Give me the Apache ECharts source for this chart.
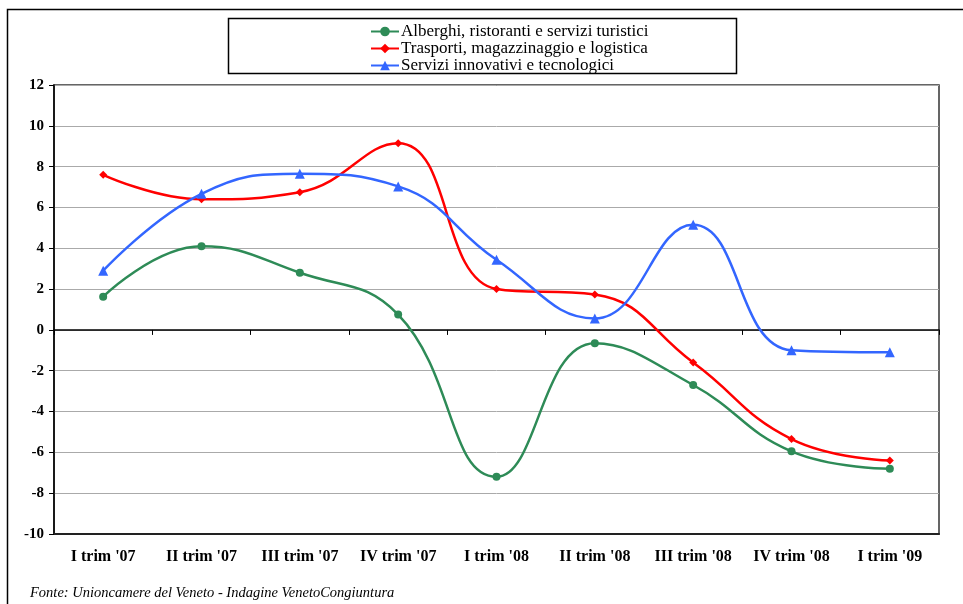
<!DOCTYPE html>
<html>
<head>
<meta charset="utf-8">
<script src="https://cdn.jsdelivr.net/npm/echarts@6/dist/echarts.min.js"></script>
<style>html,body{margin:0;padding:0;background:#fff}#c{width:963px;height:604px}</style>
</head>
<body>
<div id="c"></div>
<script>
const categories = ["I trim '07","II trim '07","III trim '07","IV trim '07","I trim '08","II trim '08","III trim '08","IV trim '08","I trim '09"];
const alberghi = [1.63, 4.1, 2.8, 0.75, -7.2, -0.65, -2.7, -5.95, -6.8];
const trasporti = [7.6, 6.4, 6.75, 9.15, 2.0, 1.73, -1.6, -5.35, -6.4];
const servizi = [2.9, 6.67, 7.65, 7.03, 3.44, 0.56, 5.15, -1.0, -1.1];
const seriesNames = ["Alberghi, ristoranti e servizi turistici","Trasporti, magazzinaggio e logistica","Servizi innovativi e tecnologici"];
const yTicks = {min: -10, max: 12, interval: 2};
const source = "Fonte: Unioncamere del Veneto - Indagine VenetoCongiuntura";

const serif = "'Liberation Serif', 'DejaVu Serif', serif";
const chart = echarts.init(document.getElementById('c'), null, {renderer: 'canvas'});
function mk(name, data, color, symbol, size) {
  return {
    name, type: 'line', data, smooth: 0.45, symbol, symbolSize: size,
    lineStyle: {color, width: 2.5}, itemStyle: {color},
    xAxisIndex: 0, yAxisIndex: 0, z: 5
  };
}
chart.setOption({
  animation: false,
  grid: {left: 54, top: 85, right: 24, bottom: 70, show: true, borderColor: '#333', borderWidth: 1.5, backgroundColor: 'transparent'},
  legend: {
    orient: 'vertical', left: 370, top: 23, itemGap: 0, itemWidth: 28, itemHeight: 12, padding: 0,
    textStyle: {fontFamily: serif, fontSize: 17, lineHeight: 15, color: '#000', padding: [0,0,0,-3]},
    data: seriesNames
  },
  graphic: [
    {type: 'rect', shape: {x: 7.5, y: 9.5, width: 1000, height: 700}, style: {fill: 'none', stroke: '#000', lineWidth: 1.5}, silent: true},
    {type: 'rect', shape: {x: 228.5, y: 18.5, width: 508, height: 55}, style: {fill: 'none', stroke: '#000', lineWidth: 1.5}, silent: true, z: -1},
    {type: 'text', left: 30, top: 586, style: {text: source, font: "italic 14.5px 'Liberation Serif', serif", fill: '#000'}}
  ],
  xAxis: [
    {type: 'category', data: categories, position: 'bottom', boundaryGap: true,
     axisLine: {onZero: true, lineStyle: {color: '#000', width: 1.5}},
     axisTick: {show: true, inside: false, length: 5, lineStyle: {color: '#000'}},
     axisLabel: {show: false}, splitLine: {show: false}},
    {type: 'category', data: categories, position: 'bottom', boundaryGap: true,
     axisLine: {onZero: false, lineStyle: {color: '#222', width: 2}},
     axisTick: {show: false},
     axisLabel: {show: true, margin: 15, fontFamily: serif, fontWeight: 'bold', fontSize: 16, color: '#000', interval: 0},
     splitLine: {show: false}}
  ],
  yAxis: [{
    type: 'value', min: yTicks.min, max: yTicks.max, interval: yTicks.interval,
    axisLine: {show: true, lineStyle: {color: '#000', width: 1.5}},
    axisTick: {show: true, length: 5, lineStyle: {color: '#000'}},
    axisLabel: {fontFamily: serif, fontWeight: 'bold', fontSize: 15, color: '#000', margin: 10},
    splitLine: {show: true, lineStyle: {color: '#aaa', width: 1}}
  }],
  series: [
    mk(seriesNames[0], alberghi, '#2e8b57', 'circle', 8),
    mk(seriesNames[1], trasporti, '#ff0000', 'diamond', 8),
    mk(seriesNames[2], servizi, '#3366ff', 'triangle', 10)
  ]
});
</script>
</body>
</html>
